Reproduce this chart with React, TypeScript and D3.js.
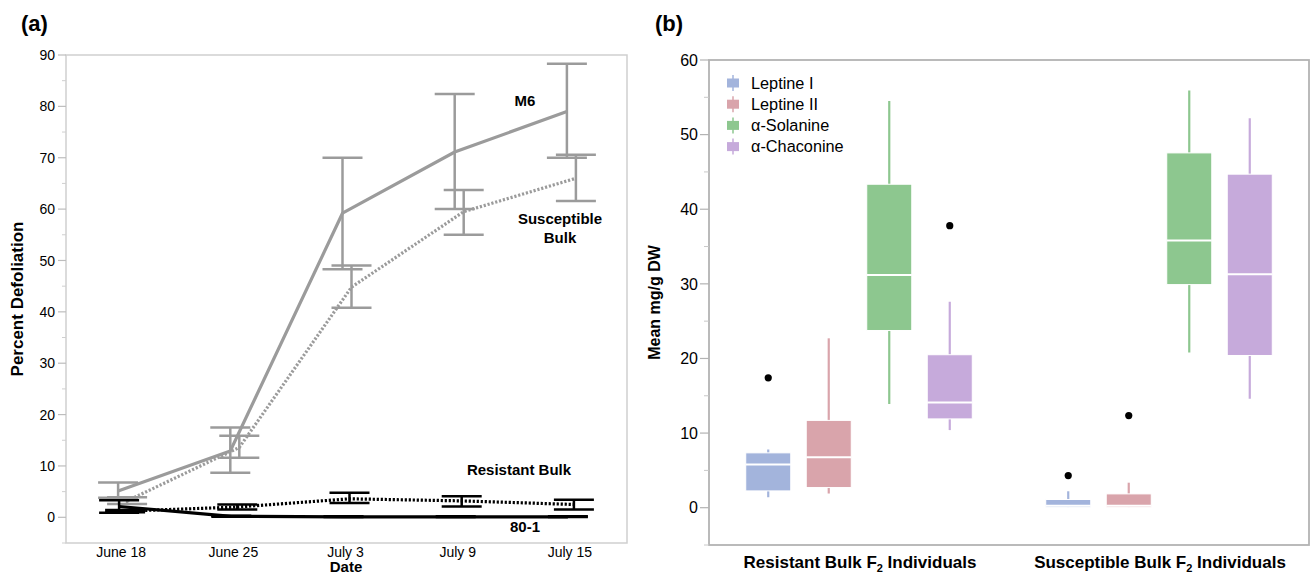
import React from "react";
import * as d3 from "d3";

// ---------- Panel (a) data ----------
const dates = ["June 18", "June 25", "July 3", "July 9", "July 15"];
const m6Mean = [5.1, 12.9, 59.2, 71.1, 79.0];
const m6Lo = [3.8, 8.7, 48.3, 60.0, 70.0];
const m6Hi = [6.8, 17.5, 70.0, 82.4, 88.3];
const suscMean = [3.2, 13.6, 44.8, 59.5, 66.0];
const suscLo = [2.6, 11.6, 40.8, 55.0, 61.6];
const suscHi = [3.9, 15.9, 49.0, 63.7, 70.6];
const resMean = [1.2, 2.0, 3.6, 3.2, 2.5];
const resLo = [1.0, 1.5, 2.8, 2.1, 1.5];
const resHi = [1.4, 2.5, 4.8, 4.1, 3.4];
const s801Mean = [2.1, 0.2, 0.1, 0.1, 0.1];
const s801Lo = [0.9, 0.1, 0.05, 0.05, 0.05];
const s801Hi = [3.3, 0.3, 0.2, 0.2, 0.2];
const yTicksA = [0, 10, 20, 30, 40, 50, 60, 70, 80, 90];

// ---------- Panel (b) data ----------
const groups = ["Resistant Bulk", "Susceptible Bulk"];
const compounds = ["Leptine I", "Leptine II", "α-Solanine", "α-Chaconine"];
const compoundColors = ["#a3b4dc", "#d9a4ab", "#8dc78f", "#c6aadb"];
// per compound: [resistant, susceptible]
const whiskerLow = [[1.4, 0.05], [1.9, 0.05], [13.9, 20.8], [10.4, 14.6]];
const q1 = [[2.25, 0.05], [2.7, 0.05], [23.75, 29.9], [11.9, 20.4]];
const median = [[5.8, 0.25], [6.75, 0.25], [31.2, 35.8], [14.1, 31.3]];
const q3 = [[7.35, 1.1], [11.7, 1.85], [43.35, 47.55], [20.5, 44.7]];
const whiskerHigh = [[7.8, 2.2], [22.7, 3.35], [54.5, 55.9], [27.6, 52.2]];
const outliers = [[[17.4], [4.3]], [[], [12.35]], [[], []], [[37.8], []]];
const yTicksB = [0, 10, 20, 30, 40, 50, 60];

const FONT = "'Liberation Sans', Arial, Helvetica, sans-serif";

function PanelA() {
  const left = 66, right = 627, top = 55, bottom = 543;
  const x = d3.scalePoint<string>().domain(dates).range([left, right]).padding(0.5);
  const y = d3.scaleLinear().domain([-5, 90]).range([bottom, top]);
  const minor = d3.range(-5, 91, 5).filter((v) => v % 10 !== 0);
  const gray = "#9b9b9b";
  const series = [
    { mean: m6Mean, lo: m6Lo, hi: m6Hi, color: gray, dash: null, off: -4 },
    { mean: suscMean, lo: suscLo, hi: suscHi, color: gray, dash: "2.2,1.8", off: 5 },
    { mean: s801Mean, lo: s801Lo, hi: s801Hi, color: "#000", dash: null, off: -3 },
    { mean: resMean, lo: resLo, hi: resHi, color: "#000", dash: "2.2,1.8", off: 3 },
  ];
  const cap = 20;
  return (
    <g fontFamily={FONT}>
      <text x={21} y={31} fontSize={22} fontWeight="bold">(a)</text>
      <rect x={left} y={top} width={right - left} height={bottom - top} fill="none" stroke="#cfcfcf" strokeWidth={1.5} />
      {yTicksA.map((t) => (
        <g key={t}>
          <line x1={left - 8} x2={left} y1={y(t)} y2={y(t)} stroke="#bdbdbd" strokeWidth={1.2} />
          <text x={left - 11} y={y(t)} dy="0.36em" textAnchor="end" fontSize={14}>{t}</text>
        </g>
      ))}
      {minor.map((t) => (
        <line key={"m" + t} x1={left - 4} x2={left} y1={y(t)} y2={y(t)} stroke="#cfcfcf" strokeWidth={1} />
      ))}
      {dates.map((d) => (
        <text key={d} x={(x(d) as number) - 1} y={557} textAnchor="middle" fontSize={14}>{d}</text>
      ))}
      <text x={346} y={572} textAnchor="middle" fontSize={15} fontWeight="bold">Date</text>
      <text transform={`translate(23,${(top + bottom) / 2}) rotate(-90)`} textAnchor="middle" fontSize={17} fontWeight="bold">Percent Defoliation</text>
      {series.map((s, si) => {
        const line = d3.line<number>().x((_, i) => (x(dates[i]) as number) + s.off).y((v) => y(v));
        return (
          <g key={si}>
            {dates.map((d, i) => {
              const cx = (x(d) as number) + s.off;
              return (
                <g key={d} stroke={s.color} strokeWidth={2.5}>
                  <line x1={cx} x2={cx} y1={y(s.lo[i])} y2={y(s.hi[i])} />
                  <line x1={cx - cap} x2={cx + cap} y1={y(s.lo[i])} y2={y(s.lo[i])} />
                  <line x1={cx - cap} x2={cx + cap} y1={y(s.hi[i])} y2={y(s.hi[i])} />
                </g>
              );
            })}
            <path d={line(s.mean) || ""} fill="none" stroke={s.color} strokeWidth={3.2} strokeDasharray={s.dash || undefined} />
          </g>
        );
      })}
      <g fontSize={15} fontWeight="bold" textAnchor="middle">
        <text x={525} y={106}>M6</text>
        <text x={560} y={224}>Susceptible</text>
        <text x={560} y={243}>Bulk</text>
        <text x={519} y={475}>Resistant Bulk</text>
        <text x={525} y={532}>80-1</text>
      </g>
    </g>
  );
}

function PanelB() {
  const left = 709, right = 1309, top = 60, bottom = 545;
  const y = d3.scaleLinear().domain([-5, 60]).range([bottom, top]);
  const gx = d3.scaleBand<string>().domain(groups).range([left, right]);
  const sx = d3.scaleBand<string>().domain(compounds).range([0, gx.bandwidth()]).paddingInner(0.256).paddingOuter(0.607);
  const minor = d3.range(-5, 61, 5).filter((v) => v % 10 !== 0);
  return (
    <g fontFamily={FONT}>
      <text x={655} y={31} fontSize={22} fontWeight="bold">(b)</text>
      <rect x={left} y={top} width={right - left} height={bottom - top} fill="none" stroke="#b3b3b3" strokeWidth={1.8} />
      {yTicksB.map((t) => (
        <g key={t}>
          <line x1={left - 9} x2={left} y1={y(t)} y2={y(t)} stroke="#b3b3b3" strokeWidth={1.2} />
          <text x={left - 11} y={y(t)} dy="0.36em" textAnchor="end" fontSize={16}>{t}</text>
        </g>
      ))}
      {minor.map((t) => (
        <line key={"m" + t} x1={left - 5} x2={left} y1={y(t)} y2={y(t)} stroke="#c8c8c8" strokeWidth={1} />
      ))}
      <text transform={`translate(660,${(top + bottom) / 2}) rotate(-90)`} textAnchor="middle" fontSize={16} fontWeight="bold">Mean mg/g DW</text>
      {groups.map((g) => (
        <text key={g} x={(gx(g) as number) + gx.bandwidth() / 2 + 1} y={568} textAnchor="middle" fontSize={17} fontWeight="bold">
          {g} F<tspan fontSize={11} dy={4}>2</tspan><tspan dy={-4}> Individuals</tspan>
        </text>
      ))}
      {groups.map((g, gi) =>
        compounds.map((c, ci) => {
          const x0 = (gx(g) as number) + (sx(c) as number);
          const w = sx.bandwidth();
          const cx = x0 + w / 2;
          const col = compoundColors[ci];
          return (
            <g key={g + c}>
              <line x1={cx} x2={cx} y1={y(whiskerLow[ci][gi])} y2={y(whiskerHigh[ci][gi])} stroke={col} strokeWidth={2.2} />
              <rect x={x0} y={y(q3[ci][gi])} width={w} height={Math.max(1, y(q1[ci][gi]) - y(q3[ci][gi]))} fill={col} stroke="#fff" strokeWidth={1} />
              <line x1={x0} x2={x0 + w} y1={y(median[ci][gi])} y2={y(median[ci][gi])} stroke="#fff" strokeWidth={2} />
              {outliers[ci][gi].map((o, oi) => (
                <circle key={oi} cx={cx} cy={y(o)} r={3.6} fill="#000" />
              ))}
            </g>
          );
        })
      )}
      {compounds.map((c, ci) => {
        const ly = 83 + ci * 21.2;
        return (
          <g key={c}>
            <line x1={733} x2={733} y1={ly - 8} y2={ly + 8} stroke={compoundColors[ci]} strokeWidth={1.5} />
            <rect x={727} y={ly - 4.5} width={12} height={9} fill={compoundColors[ci]} />
            <text x={751} y={ly} dy="0.36em" fontSize={16.3}>{c}</text>
          </g>
        );
      })}
    </g>
  );
}

export default function App() {
  return (
    <svg width={1312} height={576} style={{ position: "absolute", left: 0, top: 0, background: "#fff" }}>
      <rect width={1312} height={576} fill="#fff" />
      <PanelA />
      <PanelB />
    </svg>
  );
}
